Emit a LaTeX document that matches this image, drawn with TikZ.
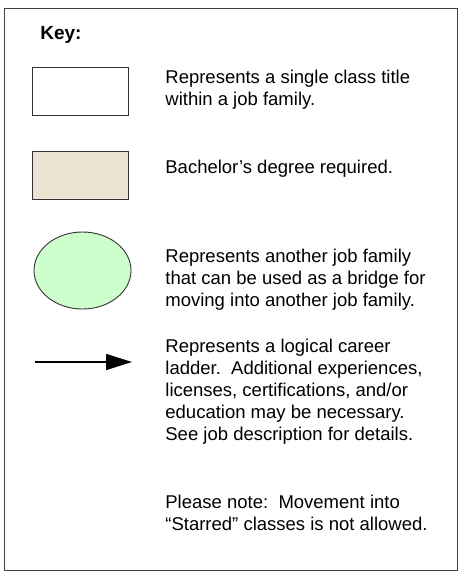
\documentclass[tikz,border=0pt]{standalone}
\usepackage{fontspec}
\setmainfont{Liberation Sans}
\usetikzlibrary{positioning,arrows.meta,shapes.geometric}

\begin{document}
\begin{tikzpicture}[x=1pt,y=-1pt,thick,
  key box/.style={draw=black!80,line width=0.9pt,minimum width=96pt,minimum height=48pt,inner sep=0pt},
  key text/.style={anchor=base west,align=left,inner sep=0pt,font=\fontsize{18.5}{21.8}\selectfont}]
			\useasboundingbox (0,0) rectangle (458,571);
			\draw[black!75,line width=1pt] (4,8) rectangle (457,570);
			\node[anchor=base west,inner sep=0pt,font=\fontsize{19}{22}\selectfont\bfseries] (key) at (40,39) {Key:};
			\node[key box,fill=white] (1) at (80,91) {};
			\node[key box,fill={rgb,255:red,236;green,227;blue,211}] (2) at (80,175) {};
			\node[ellipse,draw=black!80,line width=0.9pt,fill={rgb,255:red,204;green,255;blue,204},minimum width=97pt,minimum height=77pt,inner sep=0pt] (3) at (82.5,270.5) {};
			\coordinate (4) at (35,362);
			\coordinate (5) at (132,362);
			\draw[line width=1.5pt,-{Triangle[length=26pt,width=16pt]}] (4) -- (5);
			% base of each text = baseline of its last line
			\node[key text] (t1) at (165,105) {Represents a single class title\\within a job family.};
			\node[key text] (t2) at (165,173) {Bachelor’s degree required.};
			\node[key text] (t3) at (165,306) {Represents another job family\\that can be used as a bridge for\\moving into another job family.};
			\node[key text] (t4) at (165,440) {Represents a logical career\\ladder.\ \ Additional experiences,\\licenses, certifications, and/or\\education may be necessary.\\See job description for details.};
			\node[key text] (t5) at (165,530) {Please note:\ \ Movement into\\“Starred” classes is not allowed.};
		\end{tikzpicture}
\end{document}
